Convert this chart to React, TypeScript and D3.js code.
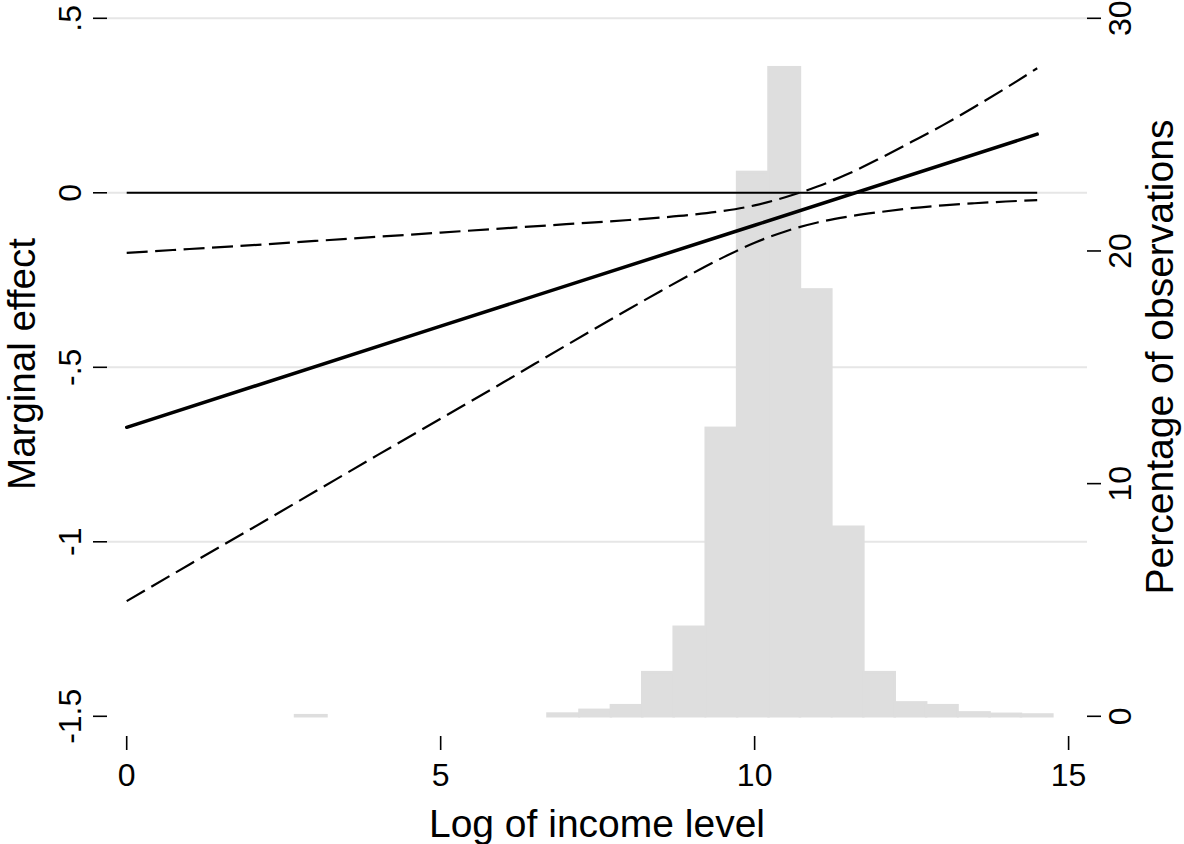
import React from "react";
import * as d3 from "d3";

const W = 1184;
const H = 844;

// Axis ticks
const xTickValues = [0, 5, 10, 15];
const leftTickValues = [-1.5, -1, -0.5, 0, 0.5];
const leftTickLabels = ["-1.5", "-1", "-.5", "0", ".5"];
const rightTickValues = [0, 10, 20, 30];
const rightTickLabels = ["0", "10", "20", "30"];
const gridValues = [-1, -0.5, 0, 0.5];

// Marginal effect (solid line)
const effectX = [0, 5, 10, 14.5];
const effectY = [-0.672, -0.382, -0.093, 0.168];

// Confidence interval (dashed lines)
const ciX = [0, 1, 2, 3, 4, 5, 6, 7, 8, 8.5, 9, 9.5, 10, 10.5, 11, 11.5, 12, 12.5, 13, 13.5, 14, 14.5];
const ciUpper = [-0.172, -0.161, -0.15, -0.138, -0.126, -0.114, -0.102, -0.09, -0.078, -0.071, -0.063, -0.052, -0.036, -0.012, 0.018, 0.055, 0.099, 0.146, 0.194, 0.246, 0.3, 0.357];
const ciLower = [-1.17, -1.065, -0.961, -0.856, -0.751, -0.647, -0.543, -0.437, -0.333, -0.282, -0.232, -0.185, -0.143, -0.11, -0.085, -0.068, -0.055, -0.044, -0.036, -0.03, -0.025, -0.021];

// Reference line at zero
const zeroX = [0, 14.5];
const zeroY = [0, 0];

// Histogram of log income (percentage of observations)
const binLow = [2.68, 6.7, 7.21, 7.71, 8.21, 8.71, 9.22, 9.72, 10.22, 10.72, 11.23, 11.73, 12.23, 12.73, 13.24, 13.74, 14.24];
const binWidth = 0.5025;
const binPct = [0.05, 0.12, 0.28, 0.48, 1.9, 3.85, 12.4, 23.4, 27.9, 18.35, 8.15, 1.9, 0.6, 0.48, 0.17, 0.11, 0.08];

const FONT = "'Liberation Sans', Arial, Helvetica, sans-serif";

export default function App() {
  const x = d3.scaleLinear().domain([0, 15]).range([126.7, 1068.6]);
  const yL = d3.scaleLinear().domain([-1.5, 0.5]).range([716.3, 18.3]);
  const yR = d3.scaleLinear().domain([0, 30]).range([716.3, 18.3]);

  const line = d3
    .line<[number, number]>()
    .x((d) => x(d[0]))
    .y((d) => yL(d[1]));
  const smooth = d3
    .line<[number, number]>()
    .x((d) => x(d[0]))
    .y((d) => yL(d[1]))
    .curve(d3.curveMonotoneX);

  const effectPath = line(effectX.map((v, i) => [v, effectY[i]]));
  const upperPath = smooth(ciX.map((v, i) => [v, ciUpper[i]]));
  const lowerPath = smooth(ciX.map((v, i) => [v, ciLower[i]]));
  const zeroPath = line(zeroX.map((v, i) => [v, zeroY[i]]));

  const gridX0 = 107;
  const gridX1 = 1087;
  const barColor = "#dedede";

  return (
    <svg
      width={W}
      height={H}
      style={{ position: "absolute", left: 0, top: 0, background: "#fff" }}
      fontFamily={FONT}
    >
      <rect x={0} y={0} width={W} height={H} fill="#fff" />
      {/* gridlines */}
      {gridValues.map((v) => (
        <line key={"g" + v} x1={gridX0} x2={gridX1} y1={yL(v)} y2={yL(v)} stroke="#e6e6e6" strokeWidth={2} />
      ))}
      {/* histogram bars */}
      {binLow.map((b, i) => (
        <rect
          key={"b" + i}
          x={x(b)}
          y={yR(binPct[i])}
          width={x(b + binWidth) - x(b)}
          height={yR(0) - yR(binPct[i])}
          fill={barColor}
          stroke={barColor}
          strokeWidth={2.4}
        />
      ))}
      {/* zero line */}
      <path d={zeroPath || ""} fill="none" stroke="#000" strokeWidth={2} />
      {/* CI */}
      <path d={upperPath || ""} fill="none" stroke="#000" strokeWidth={2.2} strokeDasharray="21 7.5" />
      <path d={lowerPath || ""} fill="none" stroke="#000" strokeWidth={2.2} strokeDasharray="21 7.5" />
      {/* effect */}
      <path d={effectPath || ""} fill="none" stroke="#000" strokeWidth={3.5} strokeLinecap="round" />

      {/* left axis */}
      {leftTickValues.map((v, i) => (
        <g key={"l" + v}>
          <line x1={93} x2={107} y1={yL(v)} y2={yL(v)} stroke="#000" strokeWidth={1.6} />
          <text transform={`translate(81,${yL(v)}) rotate(-90)`} textAnchor="middle" fontSize={32} fill="#000">
            {leftTickLabels[i]}
          </text>
        </g>
      ))}
      <text transform={`translate(35,364) rotate(-90)`} textAnchor="middle" fontSize={38.5} fill="#000">
        Marginal effect
      </text>

      {/* right axis */}
      {rightTickValues.map((v, i) => (
        <g key={"r" + v}>
          <line x1={1087} x2={1101} y1={yR(v)} y2={yR(v)} stroke="#000" strokeWidth={1.6} />
          <text transform={`translate(1131,${yR(v)}) rotate(-90)`} textAnchor="middle" fontSize={32} fill="#000">
            {rightTickLabels[i]}
          </text>
        </g>
      ))}
      <text transform={`translate(1173,357) rotate(-90)`} textAnchor="middle" fontSize={39} fill="#000">
        Percentage of observations
      </text>

      {/* bottom axis */}
      {xTickValues.map((v) => (
        <g key={"x" + v}>
          <line x1={x(v)} x2={x(v)} y1={736} y2={750} stroke="#000" strokeWidth={1.6} />
          <text x={x(v)} y={786} textAnchor="middle" fontSize={32} fill="#000">
            {v}
          </text>
        </g>
      ))}
      <text x={597} y={837} textAnchor="middle" fontSize={39} fill="#000">
        Log of income level
      </text>
    </svg>
  );
}
